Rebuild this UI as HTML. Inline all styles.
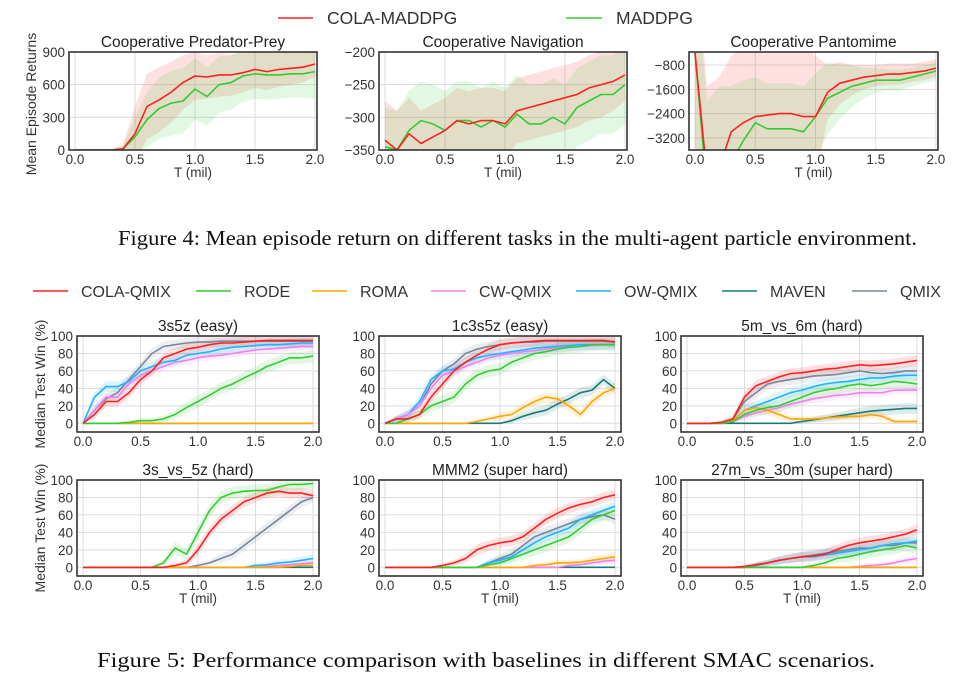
<!DOCTYPE html>
<html><head><meta charset="utf-8"><style>
html,body{margin:0;padding:0;background:#fff;}
svg{display:block;font-family:"Liberation Sans",sans-serif;}
.cap{font-family:"Liberation Serif",serif;font-size:21px;fill:#111;}
</style></head><body>
<svg id="fig" width="978" height="692" viewBox="0 0 978 692">
<g id="legend4">
 <line x1="278" y1="18" x2="313" y2="18" stroke="#ff2020" stroke-width="1.6"/>
 <text x="327" y="24" font-size="17.5" fill="#333">COLA-MADDPG</text>
 <line x1="566" y1="18" x2="602" y2="18" stroke="#33cc33" stroke-width="1.6"/>
 <text x="616" y="24" font-size="17.5" fill="#333">MADDPG</text>
</g>
<text class="cap" x="118" y="245" textLength="799" lengthAdjust="spacingAndGlyphs">Figure 4: Mean episode return on different tasks in the multi-agent particle environment.</text>
<g id="legend5"></g>
<text class="cap" x="97" y="667" textLength="778" lengthAdjust="spacingAndGlyphs">Figure 5: Performance comparison with baselines in different SMAC scenarios.</text>
<g id="plots"></g>
</svg>
<script>
// ---- Data ----
const xs = [0,0.1,0.2,0.3,0.4,0.5,0.6,0.7,0.8,0.9,1.0,1.1,1.2,1.3,1.4,1.5,1.6,1.7,1.8,1.9,2.0];
const mpeMethods = ["COLA-MADDPG","MADDPG"];
const ppCola = [0,0,0,0,10,150,400,460,530,620,680,670,690,690,710,740,720,740,750,760,790];
const ppMaddpg = [0,0,0,0,10,120,280,380,430,450,560,490,600,620,680,700,690,690,700,700,720];
const ppColaBand = [0,0,0,5,40,250,300,300,280,250,220,200,200,190,180,170,170,160,150,140,120];
const ppMaddpgBand = [0,0,0,5,30,180,250,280,300,300,280,270,260,250,240,230,230,220,220,220,250];
const navCola = [-335,-350,-325,-340,-330,-320,-305,-310,-305,-305,-310,-290,-285,-280,-275,-270,-265,-255,-250,-245,-235];
const navMaddpg = [-345,-350,-320,-305,-310,-320,-305,-305,-315,-305,-315,-295,-310,-310,-300,-310,-285,-275,-265,-265,-250];
const navColaBand = [60,60,55,50,50,50,50,50,50,50,50,50,50,50,50,50,50,50,50,45,40];
const navMaddpgBand = [60,60,60,60,60,60,60,60,60,60,60,60,60,60,60,60,60,60,60,60,60];
const panCola = [-400,-4500,-4200,-3000,-2700,-2500,-2450,-2400,-2400,-2500,-2500,-1700,-1400,-1300,-1200,-1150,-1100,-1100,-1050,-1000,-900];
const panMaddpg = [-400,-5000,-4500,-4000,-3300,-2700,-2900,-2900,-2900,-3000,-2500,-1900,-1700,-1500,-1400,-1300,-1300,-1300,-1200,-1100,-1000];
const panColaBand = [3000,3000,3000,2500,2500,2500,2500,2500,2500,2500,2000,900,700,500,400,350,350,350,300,300,300];
const panMaddpgBand = [3000,3000,3000,2500,2000,1500,1500,1500,1500,1500,1400,1200,900,700,500,400,350,350,300,300,300];

const smacMethods = ["COLA-QMIX","RODE","ROMA","CW-QMIX","OW-QMIX","MAVEN","QMIX"];
const s3s5z = [
 [0,10,25,25,35,50,60,75,80,85,87,90,92,92,93,94,95,95,95,95,95],
 [0,0,0,0,1,3,3,5,10,18,25,32,40,45,52,58,65,70,75,75,77],
 [0,0,0,0,0,0,0,0,0,0,0,0,0,0,0,0,0,0,0,0,0],
 [0,15,30,30,45,55,60,65,70,72,75,77,78,80,82,84,85,86,87,88,88],
 [0,30,42,42,48,60,65,70,72,78,80,82,85,87,88,89,90,90,91,92,92],
 [0,0,0,0,0,0,0,0,0,0,0,0,0,0,0,0,0,0,0,0,0],
 [0,15,28,35,50,65,80,88,90,92,93,93,94,94,94,94,94,94,94,94,94]];
const s1c3s5z = [
 [0,5,5,10,30,45,60,70,78,85,90,92,93,94,95,95,95,95,95,95,93],
 [0,0,5,10,20,25,30,45,55,60,62,70,75,80,82,85,87,88,90,90,90],
 [0,0,0,0,0,0,0,0,2,5,8,10,18,25,30,28,20,10,25,35,40],
 [0,5,10,20,40,55,60,65,70,75,78,80,82,83,85,86,87,88,89,90,90],
 [0,5,10,25,50,60,62,70,75,78,80,82,84,86,87,88,89,90,90,90,90],
 [0,0,0,0,0,0,0,0,0,0,0,3,8,12,15,22,28,35,38,50,40],
 [0,5,10,20,45,60,68,80,85,88,90,92,93,93,94,94,94,94,94,94,93]];
const s5m6m = [
 [0,0,0,1,5,30,43,48,53,57,58,60,62,63,65,67,66,67,68,70,72],
 [0,0,0,0,2,10,15,18,20,25,30,35,38,40,43,45,43,45,48,47,45],
 [0,0,0,0,3,15,18,15,10,5,5,5,6,7,8,8,10,8,2,2,2],
 [0,0,0,0,2,8,12,15,18,22,25,28,30,32,33,35,35,35,38,38,38],
 [0,0,0,0,3,15,20,25,30,35,38,42,45,47,48,50,52,52,54,55,55],
 [0,0,0,0,0,0,0,0,0,0,2,4,6,8,10,12,14,15,16,17,17],
 [0,0,0,1,5,25,35,45,48,50,52,54,55,56,58,60,58,57,58,60,60]];
const s3s5zHard = [
 [0,0,0,0,0,0,0,0,2,5,20,40,55,65,75,80,85,87,85,85,82],
 [0,0,0,0,0,0,0,5,22,15,40,65,80,85,87,88,88,92,95,95,96],
 [0,0,0,0,0,0,0,0,0,0,0,0,0,0,0,0,0,0,1,2,2],
 [0,0,0,0,0,0,0,0,0,0,0,0,0,0,0,0,1,2,3,4,5],
 [0,0,0,0,0,0,0,0,0,0,0,0,0,0,0,2,3,5,6,8,10],
 [0,0,0,0,0,0,0,0,0,0,0,0,0,0,0,0,0,0,0,0,0],
 [0,0,0,0,0,0,0,0,0,0,2,5,10,15,25,35,45,55,65,75,80]];
const sMMM2 = [
 [0,0,0,0,0,2,5,10,20,25,28,30,35,45,55,62,68,72,75,80,83],
 [0,0,0,0,0,0,0,0,0,3,5,10,15,20,25,30,35,45,55,60,65],
 [0,0,0,0,0,0,0,0,0,0,0,0,0,2,3,5,5,6,8,10,12],
 [0,0,0,0,0,0,0,0,0,0,0,0,0,0,0,0,2,3,5,7,8],
 [0,0,0,0,0,0,0,0,0,5,8,12,20,28,35,40,45,55,60,65,70],
 [0,0,0,0,0,0,0,0,0,0,0,0,0,0,0,0,0,0,0,0,0],
 [0,0,0,0,0,0,0,0,0,5,10,15,25,35,40,45,50,55,58,60,55]];
const s27m30m = [
 [0,0,0,0,0,1,3,5,8,10,12,13,15,20,25,28,30,32,35,38,43],
 [0,0,0,0,0,0,0,0,0,0,0,2,5,10,12,15,18,20,22,25,22],
 [0,0,0,0,0,0,0,0,0,0,0,0,0,0,0,0,0,0,0,0,0],
 [0,0,0,0,0,0,0,0,0,0,0,0,0,0,0,1,2,3,5,8,10],
 [0,0,0,0,0,0,3,5,8,10,12,12,14,16,18,20,22,25,27,28,30],
 [0,0,0,0,0,0,0,0,0,0,0,0,0,0,0,0,0,0,0,0,0],
 [0,0,0,0,0,0,2,5,8,10,12,14,16,18,20,22,22,25,25,28,28]];
const smacBand = [6,7,6,5,6,6,6];
const yTicksPP = [0,300,600,900];
const yTicksNav = [-350,-300,-250,-200];
const yTicksPan = [-3200,-2400,-1600,-800];
const yTicksSmac = [0,20,40,60,80,100];
const xTicks = [0,0.5,1,1.5,2];

const colors = ["#ff2020","#33cc33","#ffa500","#ee82ee","#1eb4ff","#1a7a7a","#778899"];
const mpeColors = ["#ff2020","#33cc33"];
const NS="http://www.w3.org/2000/svg";
const root=document.getElementById('plots');
let clipId=0;
function el(tag,attrs,parent){const e=document.createElementNS(NS,tag);for(const k in attrs)e.setAttribute(k,attrs[k]);(parent||root).appendChild(e);return e;}

function panel(o){
 const g=el('g',{});
 
 
 const L=o.x,T=o.y,W=o.w,H=o.h;
 const sx=v=>L+(v-o.xmin)/(o.xmax-o.xmin)*W;
 const sy=v=>T+H-(v-o.ymin)/(o.ymax-o.ymin)*H;
 const id='c'+(clipId++);
 const cp=el('clipPath',{id:id},g);el('rect',{x:L,y:T,width:W,height:H},cp);
 o.yticks.forEach(t=>{
  const ln=el('line',{x1:L,x2:L+W,y1:sy(t),y2:sy(t),stroke:'#dcdcdc','stroke-width':1},g);
  
  
  const tx=el('text',{x:L-4,y:sy(t)+5,'text-anchor':'end','font-size':13.5,fill:'#333'},g);
  tx.textContent=String(t).replace('-','\u2212');
  
  
 });
 xTicks.forEach(t=>{
  const ln=el('line',{x1:sx(t),x2:sx(t),y1:T,y2:T+H,stroke:'#dcdcdc','stroke-width':1},g);
  
  
  const tx=el('text',{x:sx(t),y:T+H+14,'text-anchor':'middle','font-size':13.5,fill:'#333'},g);
  tx.textContent=t.toFixed(1);
  
  
 });
 const pg=el('g',{'clip-path':'url(#'+id+')'},g);
 o.series.forEach((s,i)=>{
  const b=o.bands[i];
  const bw=j=>Array.isArray(b)?b[j]:Math.min(b,Math.max(s[j],0)*0.3+(s[j]>0?2:0));
  let d='';
  s.forEach((v,j)=>{d+=(j?'L':'M')+sx(xs[j]).toFixed(1)+','+sy(v+bw(j)).toFixed(1);});
  for(let j=s.length-1;j>=0;j--)d+='L'+sx(xs[j]).toFixed(1)+','+sy(s[j]-bw(j)).toFixed(1);
  const p=el('path',{d:d+'Z',fill:o.colors[i],'fill-opacity':0.14,stroke:'none'},pg);
  
  
 });
 for(let i=o.series.length-1;i>=0;i--){
  const s=o.series[i];
  let d='';
  s.forEach((v,j)=>{d+=(j?'L':'M')+sx(xs[j]).toFixed(1)+','+sy(v).toFixed(1);});
  const p=el('path',{d:d,fill:'none',stroke:o.colors[i],'stroke-width':1.6,'stroke-linejoin':'round'},pg);
  
  
 }
 const fr=el('rect',{x:L,y:T,width:W,height:H,fill:'none',stroke:'#333','stroke-width':1.6},g);
 
 
 const tt=el('text',{x:L+W/2,y:T-5,'text-anchor':'middle','font-size':15.5,fill:'#222'},g);
 tt.textContent=o.title;
 
 
 if(o.xlabel){const xl=el('text',{x:L+W/2,y:T+H+27,'text-anchor':'middle','font-size':13.5,fill:'#333'},g);xl.textContent='T (mil)';
  
  }
 if(o.ylabel){const cy=T+H/2+o.ylOff;const yl=el('text',{x:o.ylx,y:cy,'text-anchor':'middle','font-size':14,fill:'#333',transform:'rotate(-90 '+o.ylx+' '+cy+')'},g);yl.textContent=o.ylabel;
  
  }
}

const topCfg={y:52,h:98,w:248,xmin:-0.05,xmax:2.017,colors:mpeColors,labels:mpeMethods,xlabel:true,ylOff:0};
panel(Object.assign({},topCfg,{name:'predator-prey-chart',x:69,ymin:0,ymax:900,yticks:yTicksPP,series:[ppCola,ppMaddpg],bands:[ppColaBand,ppMaddpgBand],title:'Cooperative Predator-Prey',ylabel:'Mean Episode Returns',ylx:36,ylOff:3}));
panel(Object.assign({},topCfg,{name:'navigation-chart',x:379,ymin:-350,ymax:-200,yticks:yTicksNav,series:[navCola,navMaddpg],bands:[navColaBand,navMaddpgBand],title:'Cooperative Navigation'}));
panel(Object.assign({},topCfg,{name:'pantomime-chart',x:689,w:249,ymin:-3600,ymax:-370,yticks:yTicksPan,series:[panCola,panMaddpg],bands:[panColaBand,panMaddpgBand],title:'Cooperative Pantomime'}));

const smacCfg={w:242,h:96,xmin:-0.052,xmax:2.052,ymin:-10,ymax:100,yticks:yTicksSmac,colors:colors,labels:smacMethods,bands:smacBand,ylOff:0};
panel(Object.assign({},smacCfg,{name:'3s5z-chart',x:77,y:336,series:s3s5z,title:'3s5z (easy)',ylabel:'Median Test Win (%)',ylx:45}));
panel(Object.assign({},smacCfg,{name:'1c3s5z-chart',x:379,y:336,series:s1c3s5z,title:'1c3s5z (easy)'}));
panel(Object.assign({},smacCfg,{name:'5m-vs-6m-chart',x:681,y:336,series:s5m6m,title:'5m_vs_6m (hard)'}));
panel(Object.assign({},smacCfg,{name:'3s-vs-5z-chart',x:77,y:480,series:s3s5zHard,title:'3s_vs_5z (hard)',ylabel:'Median Test Win (%)',ylx:45,xlabel:true}));
panel(Object.assign({},smacCfg,{name:'mmm2-chart',x:379,y:480,series:sMMM2,title:'MMM2 (super hard)',xlabel:true}));
panel(Object.assign({},smacCfg,{name:'27m-vs-30m-chart',x:681,y:480,series:s27m30m,title:'27m_vs_30m (super hard)',xlabel:true}));

const lg=document.getElementById('legend5');
const legLine=[33,196,312,431,576,722,852];
smacMethods.forEach((m,i)=>{
 const x=legLine[i];
 const ln=el('line',{x1:x,x2:x+35,y1:291,y2:291,stroke:colors[i],'stroke-width':1.6},lg);
 
 
 const t=el('text',{x:x+48,y:297,'font-size':16,fill:'#333'},lg);
 t.textContent=m;
 
 
});
</script>
</body></html>
